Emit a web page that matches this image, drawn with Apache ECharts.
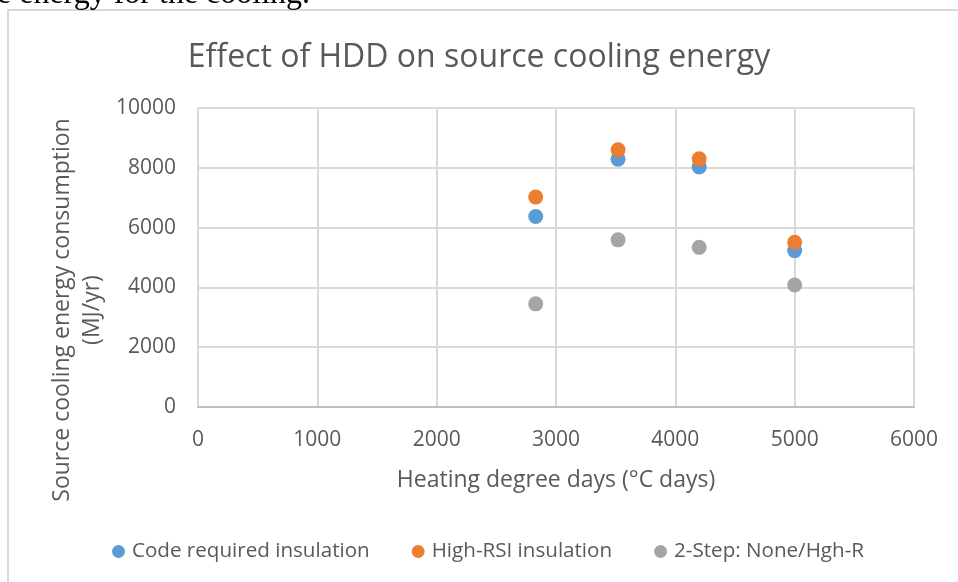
<!DOCTYPE html>
<html>
<head>
<meta charset="utf-8">
<script src="https://cdn.jsdelivr.net/npm/echarts@6/dist/echarts.min.js"></script>
<style>
  html, body { margin: 0; padding: 0; background: #ffffff; }
  #chart { width: 958px; height: 582px; }
</style>
</head>
<body>
<div id="chart"></div>
<script>
// Heating degree days of the four locations
const hdd = [2830, 3520, 4200, 5000];
// Source cooling energy (MJ/yr) per case
const codeRequired = [6370, 8290, 8030, 5230];
const highRsi = [7020, 8600, 8300, 5510];
const twoStep = [3450, 5590, 5340, 4080];

const seriesNames = ["Code required insulation", "High-RSI insulation", "2-Step: None/Hgh-R"];
const seriesColors = ["#5B9BD5", "#ED7D31", "#A5A5A5"];

const FONT = "'Open Sans', 'Noto Sans', sans-serif";
const TEXT_GREY = "#595959";
const GRID_GREY = "#D9D9D9";

const pairs = (ys) => hdd.map((x, i) => [x, ys[i]]);
// Excel shows plain numbers, no thousands separator
const plain = (v) => String(v);

const chart = echarts.init(document.getElementById("chart"));

const option = {
   animation: false,
   textStyle: { fontFamily: FONT },
   title: {
      text: "Effect of HDD on source cooling energy",
      left: "center",
      top: 37,
      textStyle: { fontFamily: FONT, fontSize: 32, fontWeight: "normal", color: TEXT_GREY },
   },
   grid: { left: 198, right: 44, top: 108, bottom: 175, containLabel: false },
   legend: {
      left: 107,
      top: 536,
      icon: "circle",
      itemWidth: 13,
      itemHeight: 13,
      itemGap: 42,
      textStyle: { fontFamily: FONT, fontSize: 20.6, color: TEXT_GREY, padding: [0, 0, 0, 2] },
      data: seriesNames,
   },
   xAxis: {
      type: "value",
      min: 0,
      max: 6000,
      interval: 1000,
      name: "Heating degree days (°C days)",
      nameLocation: "middle",
      nameGap: 62,
      nameTextStyle: { fontFamily: FONT, fontSize: 23, color: TEXT_GREY },
      axisLine: { show: true, onZero: false, lineStyle: { color: "#BFBFBF", width: 2 } },
      axisTick: { show: false },
      axisLabel: { fontFamily: FONT, fontSize: 21, color: TEXT_GREY, margin: 23, formatter: plain },
      splitLine: { show: true, lineStyle: { color: GRID_GREY, width: 2 } },
   },
   yAxis: {
      type: "value",
      min: 0,
      max: 10000,
      interval: 2000,
      axisLine: { show: false },
      axisTick: { show: false },
      axisLabel: { fontFamily: FONT, fontSize: 21, color: TEXT_GREY, margin: 22, formatter: plain },
      splitLine: { show: true, lineStyle: { color: GRID_GREY, width: 2 } },
   },
   graphic: [
      // chart frame (runs off the right and bottom edges)
      {
         type: "rect",
         shape: { x: 8, y: 10, width: 1000, height: 620 },
         style: { fill: "none", stroke: GRID_GREY, lineWidth: 2 },
         z: -10,
         silent: true,
      },
      // cropped line of document text above the chart
      {
         type: "text",
         x: -3,
         y: 11,
         style: {
            text: "e energy for the cooling.",
            fontFamily: "'Liberation Serif', 'DejaVu Serif', serif",
            fontSize: 32,
            fill: "#000000",
            verticalAlign: "bottom",
         },
         silent: true,
      },
      // two-line y-axis title
      {
         type: "text",
         x: 77,
         y: 310,
         rotation: Math.PI / 2,
         style: {
            text: "Source cooling energy consumption\n(MJ/yr)",
            fontFamily: FONT,
            fontSize: 23,
            lineHeight: 30,
            fill: TEXT_GREY,
            align: "center",
            verticalAlign: "middle",
         },
         silent: true,
      },
   ],
   series: [
      { name: seriesNames[0], data: pairs(codeRequired) },
      { name: seriesNames[1], data: pairs(highRsi) },
      { name: seriesNames[2], data: pairs(twoStep) },
   ].map((s, i) => ({
      ...s,
      type: "scatter",
      symbol: "circle",
      symbolSize: 15,
      itemStyle: { color: seriesColors[i], opacity: 1 },
   })),
};

chart.setOption(option);
</script>
</body>
</html>
